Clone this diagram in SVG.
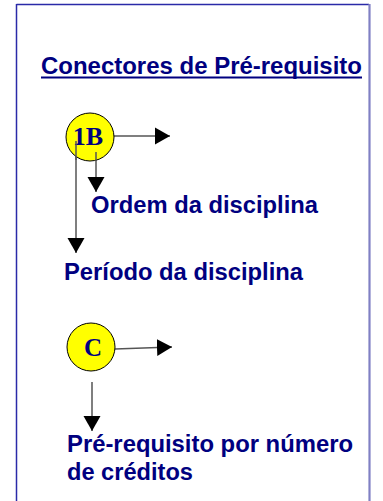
<svg xmlns="http://www.w3.org/2000/svg" width="383" height="501" viewBox="0 0 383 501">
<style>
.lbl{font-family:"Liberation Sans",Arial,sans-serif;font-weight:bold;fill:#000080;font-size:23px}
.node circle{fill:#ffff00;stroke:#000;stroke-width:1}
.node text{font-family:"Liberation Serif","Times New Roman",serif;font-weight:bold;fill:#000080;text-anchor:middle}
.conn line{stroke:#555;stroke-width:1.5;marker-end:url(#ah)}
</style>
<defs>
<marker id="ah" markerUnits="userSpaceOnUse" markerWidth="16" markerHeight="18" refX="15" refY="9" orient="auto" viewBox="0 0 16 18">
<path d="M0,0.5 L15,9 L0,17.5 z" fill="#000"/>
</marker>
</defs>
<rect width="383" height="501" fill="#fff"/>
<g id="frame">
<line x1="16.5" y1="4.5" x2="369" y2="4.5" stroke="#2a2aa8" stroke-width="1.5"/>
<line x1="16.5" y1="4" x2="16.5" y2="501" stroke="#2a2aa8" stroke-width="1.5"/>
<line x1="369.5" y1="4" x2="369.5" y2="501" stroke="#8080c4" stroke-width="2.2"/>
</g>
<g id="title">
<text class="lbl" x="41" y="74" font-size="23" textLength="321" lengthAdjust="spacingAndGlyphs">Conectores de Pré-requisito</text>
<line x1="41" y1="77.5" x2="362" y2="77.5" stroke="#000080" stroke-width="2"/>
</g>
<g class="conn" id="connectors">
<line x1="113" y1="136" x2="170" y2="136"/>
<line x1="96" y1="152" x2="96" y2="192"/>
<line x1="76" y1="141" x2="76" y2="253"/>
<line x1="115" y1="349" x2="172" y2="347"/>
<line x1="92" y1="382" x2="92" y2="431"/>
</g>
<g class="node" id="node-1B">
<circle cx="90" cy="137" r="24"/>
<text x="88" y="145" font-size="26">1B</text>
</g>
<g class="node" id="node-C">
<circle cx="91" cy="347" r="24"/>
<text x="93" y="356" font-size="25">C</text>
</g>
<g class="conn" id="connectors-overlay">
<line x1="76" y1="141" x2="76" y2="160" style="marker-end:none"/>
<line x1="96" y1="152" x2="96" y2="161" style="marker-end:none"/>
</g>
<g id="label-ordem"><text class="lbl" x="91" y="213" textLength="227" lengthAdjust="spacingAndGlyphs">Ordem da disciplina</text></g>
<g id="label-periodo"><text class="lbl" x="64" y="280" textLength="239" lengthAdjust="spacingAndGlyphs">Período da disciplina</text></g>
<g id="label-credito">
<text class="lbl" x="67" y="452" textLength="286" lengthAdjust="spacingAndGlyphs">Pré-requisito por número</text>
<text class="lbl" x="67" y="480" textLength="126" lengthAdjust="spacingAndGlyphs">de créditos</text>
</g>
</svg>
